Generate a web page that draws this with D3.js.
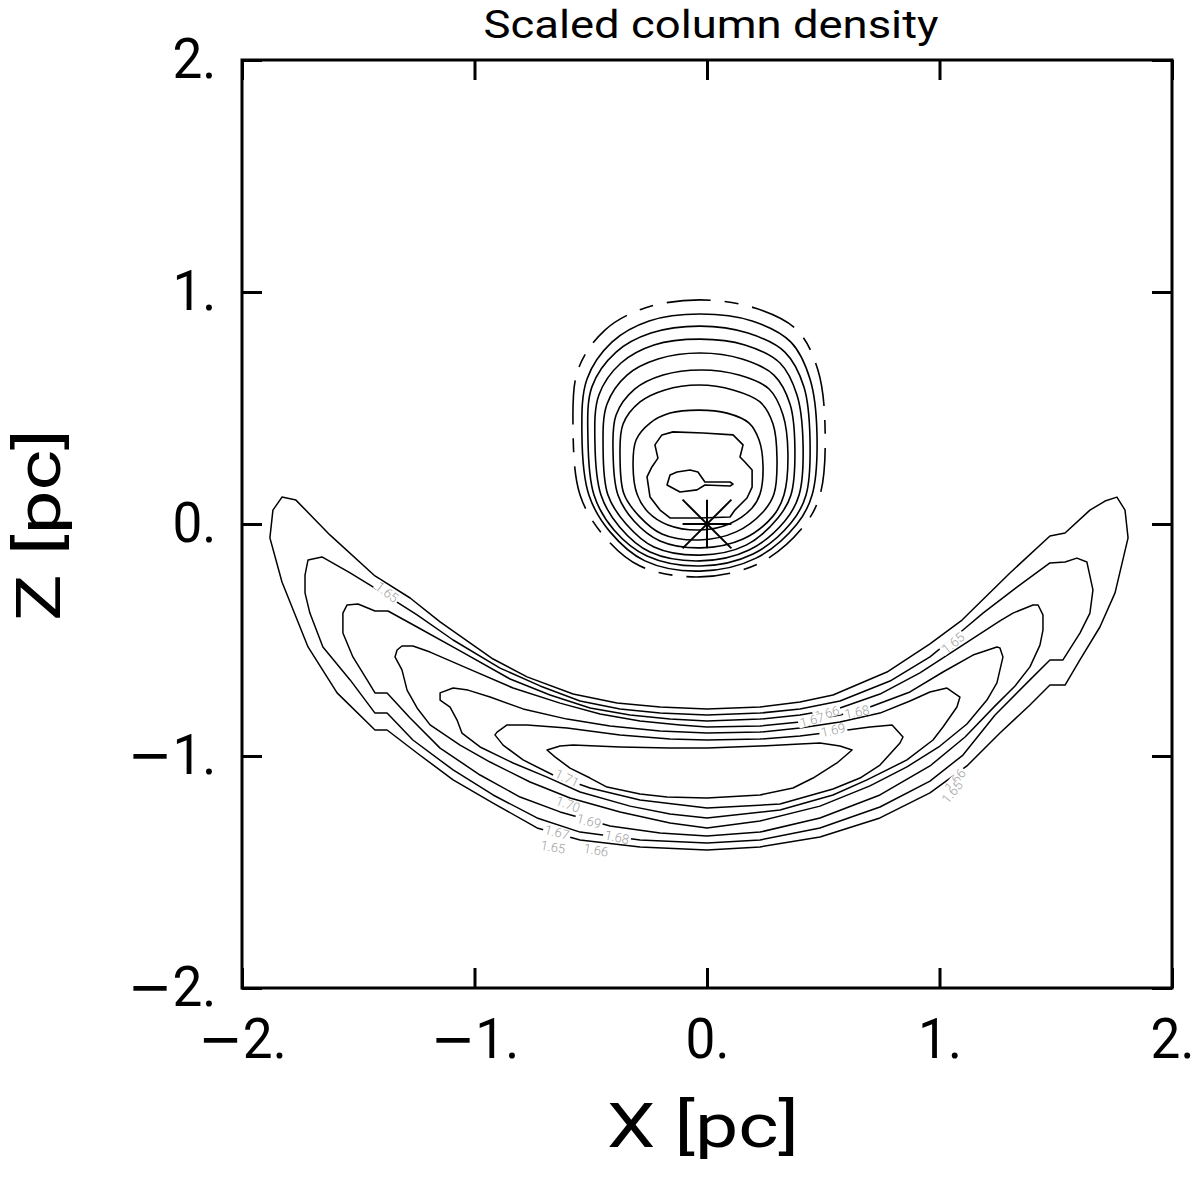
<!DOCTYPE html>
<html><head><meta charset="utf-8">
<script src="https://cdn.jsdelivr.net/npm/d3@7"></script>
<style>body{margin:0;background:#fff}</style>
</head><body>
<svg id="c" width="1200" height="1180"></svg>
<script>
// ---------- data ----------
const chartTitle = "Scaled column density";
const xLabel = "X [pc]";
const zLabel = "Z [pc]";
const xTicks = [-2, -1, 0, 1, 2];
const zTicks = [-2, -1, 0, 1, 2];
const starPos = [0, 0];
const starSize = 0.105;

// compact bubble contours (outer -> inner), data units [x, z]
const bubbleRings = [
 [[-0.030,0.966],[0.206,0.931],[0.387,0.836],[0.477,0.664],[0.508,0.405],[0.486,0.125],[0.413,-0.013],[0.228,-0.168],[-0.030,-0.228],[-0.288,-0.181],[-0.447,-0.047],[-0.546,0.125],[-0.576,0.405],[-0.555,0.664],[-0.439,0.836],[-0.267,0.931]],
 [[-0.030,0.905],[0.194,0.875],[0.361,0.784],[0.443,0.625],[0.473,0.388],[0.452,0.125],[0.387,0.000],[0.211,-0.147],[-0.030,-0.203],[-0.267,-0.159],[-0.417,-0.034],[-0.508,0.125],[-0.538,0.388],[-0.516,0.625],[-0.409,0.784],[-0.249,0.875]],
 [[-0.030,0.853],[0.176,0.823],[0.335,0.741],[0.417,0.591],[0.443,0.366],[0.426,0.125],[0.361,0.004],[0.198,-0.129],[-0.030,-0.181],[-0.258,-0.138],[-0.400,-0.026],[-0.486,0.125],[-0.512,0.366],[-0.495,0.591],[-0.391,0.741],[-0.241,0.823]],
 [[-0.030,0.797],[0.163,0.772],[0.314,0.694],[0.387,0.556],[0.413,0.349],[0.396,0.125],[0.335,0.013],[0.181,-0.112],[-0.030,-0.159],[-0.245,-0.121],[-0.376,-0.013],[-0.456,0.125],[-0.482,0.349],[-0.465,0.556],[-0.370,0.694],[-0.228,0.772]],
 [[-0.030,0.737],[0.151,0.711],[0.288,0.642],[0.357,0.517],[0.378,0.328],[0.361,0.125],[0.305,0.026],[0.168,-0.091],[-0.030,-0.134],[-0.228,-0.099],[-0.348,0.000],[-0.426,0.125],[-0.447,0.328],[-0.430,0.517],[-0.344,0.642],[-0.211,0.711]],
 [[-0.026,0.664],[0.138,0.642],[0.267,0.582],[0.327,0.470],[0.348,0.306],[0.331,0.125],[0.284,0.034],[0.155,-0.065],[-0.026,-0.103],[-0.202,-0.073],[-0.314,0.013],[-0.383,0.125],[-0.404,0.306],[-0.391,0.470],[-0.310,0.582],[-0.189,0.642]],
 [[-0.034,0.599],[0.112,0.578],[0.228,0.526],[0.284,0.431],[0.301,0.284],[0.288,0.129],[0.241,0.052],[0.125,-0.034],[-0.034,-0.069],[-0.194,-0.043],[-0.292,0.034],[-0.357,0.129],[-0.374,0.284],[-0.361,0.431],[-0.288,0.526],[-0.181,0.578]],
 [[-0.034,0.491],[0.086,0.478],[0.181,0.435],[0.224,0.362],[0.241,0.250],[0.228,0.129],[0.194,0.069],[0.095,0.000],[-0.034,-0.026],[-0.168,-0.004],[-0.254,0.052],[-0.301,0.129],[-0.318,0.250],[-0.305,0.362],[-0.245,0.435],[-0.159,0.478]],
 [[-0.194,0.384],[-0.146,0.397],[-0.017,0.392],[0.112,0.384],[0.155,0.341],[0.142,0.289],[0.163,0.267],[0.194,0.233],[0.194,0.159],[0.172,0.112],[0.120,0.060],[0.099,0.030],[-0.030,0.026],[-0.159,0.026],[-0.202,0.060],[-0.245,0.116],[-0.258,0.203],[-0.237,0.246],[-0.211,0.284],[-0.224,0.341]],
 [[-0.159,0.211],[-0.129,0.224],[-0.073,0.233],[-0.039,0.224],[-0.009,0.181],[0.099,0.181],[0.112,0.172],[0.099,0.164],[-0.009,0.168],[-0.043,0.147],[-0.116,0.138],[-0.172,0.168]]
];

// crescent contour levels and their closed outlines (outer -> inner)
const crescentLevels = [1.65, 1.66, 1.67, 1.68, 1.69, 1.70, 1.71];
const crescentContours = [
 [[-1.828,0.116],[-1.768,0.103],[-1.622,-0.047],[-1.428,-0.224],[-1.277,-0.319],[-1.148,-0.422],[-0.920,-0.582],[-0.774,-0.659],[-0.576,-0.733],[-0.387,-0.772],[-0.202,-0.789],[0,-0.797],[0.228,-0.789],[0.400,-0.767],[0.542,-0.737],[0.774,-0.638],[0.959,-0.517],[1.097,-0.414],[1.303,-0.211],[1.475,-0.052],[1.540,-0.039],[1.647,0.060],[1.712,0.099],[1.763,0.116],[1.798,0.060],[1.811,-0.060],[1.755,-0.297],[1.690,-0.444],[1.604,-0.586],[1.540,-0.694],[1.475,-0.694],[1.389,-0.780],[1.260,-0.901],[1.118,-1.043],[0.959,-1.159],[0.744,-1.267],[0.486,-1.349],[0.228,-1.392],[0,-1.405],[-0.288,-1.392],[-0.546,-1.362],[-0.731,-1.310],[-0.920,-1.203],[-1.092,-1.103],[-1.247,-0.987],[-1.376,-0.888],[-1.428,-0.888],[-1.591,-0.728],[-1.716,-0.530],[-1.828,-0.250],[-1.880,-0.060],[-1.867,0.060]],
 [[-1.716,-0.155],[-1.656,-0.142],[-1.535,-0.211],[-1.428,-0.276],[-1.247,-0.392],[-1.092,-0.500],[-0.890,-0.621],[-0.718,-0.698],[-0.546,-0.763],[-0.374,-0.797],[-0.202,-0.815],[0,-0.823],[0.228,-0.815],[0.400,-0.797],[0.572,-0.763],[0.787,-0.677],[0.959,-0.573],[1.101,-0.457],[1.187,-0.384],[1.333,-0.272],[1.475,-0.168],[1.540,-0.164],[1.591,-0.147],[1.634,-0.164],[1.660,-0.284],[1.647,-0.384],[1.604,-0.470],[1.531,-0.586],[1.475,-0.586],[1.389,-0.672],[1.239,-0.823],[1.101,-0.996],[0.959,-1.108],[0.744,-1.220],[0.486,-1.310],[0.228,-1.362],[0,-1.375],[-0.288,-1.362],[-0.546,-1.328],[-0.731,-1.267],[-0.920,-1.168],[-1.092,-1.060],[-1.265,-0.931],[-1.376,-0.815],[-1.428,-0.815],[-1.535,-0.672],[-1.652,-0.530],[-1.708,-0.384],[-1.729,-0.297],[-1.729,-0.220]],
 [[-1.548,-0.349],[-1.501,-0.345],[-1.428,-0.375],[-1.372,-0.375],[-1.247,-0.444],[-1.062,-0.547],[-0.847,-0.668],[-0.675,-0.737],[-0.503,-0.793],[-0.331,-0.823],[-0.159,-0.841],[0,-0.849],[0.228,-0.841],[0.400,-0.823],[0.572,-0.793],[0.744,-0.733],[0.916,-0.642],[1.088,-0.530],[1.260,-0.418],[1.316,-0.384],[1.402,-0.349],[1.424,-0.349],[1.445,-0.392],[1.445,-0.457],[1.432,-0.522],[1.389,-0.616],[1.325,-0.698],[1.239,-0.784],[1.110,-0.918],[0.959,-1.043],[0.744,-1.168],[0.486,-1.267],[0.228,-1.328],[0,-1.345],[-0.202,-1.332],[-0.417,-1.302],[-0.632,-1.241],[-0.804,-1.177],[-0.976,-1.082],[-1.148,-0.966],[-1.277,-0.836],[-1.376,-0.728],[-1.428,-0.728],[-1.462,-0.672],[-1.523,-0.573],[-1.566,-0.470],[-1.566,-0.384]],
 [[-1.333,-0.543],[-1.312,-0.526],[-1.265,-0.526],[-1.191,-0.552],[-1.032,-0.621],[-0.834,-0.707],[-0.632,-0.772],[-0.460,-0.819],[-0.288,-0.849],[-0.116,-0.866],[0,-0.875],[0.228,-0.871],[0.400,-0.853],[0.572,-0.823],[0.701,-0.789],[0.873,-0.724],[1.015,-0.638],[1.144,-0.565],[1.247,-0.530],[1.260,-0.534],[1.273,-0.573],[1.247,-0.685],[1.204,-0.759],[1.118,-0.862],[1.002,-0.957],[0.860,-1.047],[0.701,-1.129],[0.486,-1.216],[0.228,-1.280],[0,-1.310],[-0.159,-1.289],[-0.374,-1.241],[-0.589,-1.181],[-0.761,-1.112],[-0.933,-1.026],[-1.062,-0.953],[-1.191,-0.866],[-1.247,-0.793],[-1.290,-0.716],[-1.312,-0.629],[-1.342,-0.573]],
 [[-1.148,-0.728],[-1.092,-0.707],[-1.028,-0.716],[-0.933,-0.746],[-0.791,-0.797],[-0.602,-0.841],[-0.417,-0.871],[-0.202,-0.892],[0,-0.901],[0.228,-0.897],[0.400,-0.879],[0.572,-0.853],[0.744,-0.815],[0.873,-0.763],[0.959,-0.724],[1.032,-0.707],[1.088,-0.746],[1.075,-0.789],[1.015,-0.875],[0.972,-0.931],[0.860,-1.017],[0.688,-1.103],[0.542,-1.168],[0.314,-1.233],[0,-1.267],[-0.159,-1.250],[-0.331,-1.216],[-0.546,-1.155],[-0.688,-1.091],[-0.834,-1.030],[-0.976,-0.961],[-1.054,-0.901],[-1.075,-0.845],[-1.105,-0.789],[-1.148,-0.759]],
 [[-0.912,-0.909],[-0.903,-0.897],[-0.860,-0.866],[-0.774,-0.866],[-0.602,-0.879],[-0.374,-0.909],[-0.159,-0.927],[0,-0.931],[0.228,-0.927],[0.400,-0.914],[0.572,-0.892],[0.701,-0.875],[0.796,-0.866],[0.843,-0.918],[0.830,-0.944],[0.744,-1.039],[0.658,-1.095],[0.542,-1.142],[0.314,-1.207],[0,-1.224],[-0.288,-1.190],[-0.503,-1.138],[-0.662,-1.082],[-0.791,-1.017],[-0.877,-0.953]],
 [[-0.688,-0.974],[-0.632,-0.957],[-0.576,-0.953],[-0.374,-0.961],[-0.159,-0.966],[0,-0.966],[0.228,-0.957],[0.400,-0.948],[0.486,-0.944],[0.572,-0.957],[0.624,-0.974],[0.559,-1.030],[0.456,-1.095],[0.370,-1.138],[0.228,-1.168],[0,-1.181],[-0.172,-1.177],[-0.288,-1.164],[-0.430,-1.134],[-0.503,-1.095],[-0.589,-1.052],[-0.654,-1.004]]
];

// contour labels: level text, anchor in data units, angle along the line
const labelText = ["1.65","1.71","1.70","1.69","1.68","1.67","1.65","1.66","1.65","1.66","1.67","1.68","1.69","1.66","1.65"];
const labelX    = [-1.376,-0.602,-0.598,-0.508,-0.387,-0.645,-0.662,-0.477, 1.058, 0.516, 0.452, 0.645, 0.542, 1.067, 1.054];
const labelZ    = [-0.293,-1.095,-1.207,-1.280,-1.349,-1.328,-1.392,-1.405,-0.513,-0.815,-0.845,-0.810,-0.888,-1.103,-1.155];
const labelAng  = [38, 25, 20, 15, 12, 15, 10, 10, -40, -15, -15, -12, -12, -50, -50];

// ---------- drawing ----------
const svg = d3.select("#c");
const L = 242, R = 1172, T = 60, B = 988;
const x = d3.scaleLinear().domain([-2, 2]).range([L, R]);
const z = d3.scaleLinear().domain([-2, 2]).range([B, T]);
const FONT = "Roboto,'Liberation Sans',sans-serif";
const FW = 400;

const closedLin = d3.line().x(d => x(d[0])).y(d => z(d[1])).curve(d3.curveLinearClosed);
const closedSmooth = d3.line().x(d => x(d[0])).y(d => z(d[1])).curve(d3.curveCatmullRomClosed.alpha(0.5));

const plot = svg.append("g");
// bubble rings
plot.selectAll("path.ring").data(bubbleRings).join("path")
  .attr("class", "ring")
  .attr("d", (d, i) => i < 8 ? closedSmooth(d) : closedLin(d))
  .attr("fill", "none").attr("stroke", "#000").attr("stroke-width", 1.6)
  .attr("stroke-linejoin", "round")
  .attr("stroke-dasharray", (d, i) => i === 0 ? "44,14,14,14" : null);

// crescent
plot.selectAll("path.cres").data(crescentContours).join("path")
  .attr("class", "cres")
  .attr("d", closedLin)
  .attr("fill", "none").attr("stroke", "#000").attr("stroke-width", 1.5)
  .attr("stroke-linejoin", "round");

// contour labels (white gap + grey text)
const labels = labelText.map((t, i) => ({t, x: labelX[i], z: labelZ[i], a: labelAng[i]}));
const lg = plot.selectAll("g.lab").data(labels).join("g")
  .attr("class", "lab")
  .attr("transform", d => `translate(${x(d.x)},${z(d.z)}) rotate(${d.a})`);
lg.append("rect").attr("x", -14).attr("y", -5).attr("width", 28).attr("height", 10).attr("fill", "#fff");
lg.append("text").text(d => d.t)
  .attr("text-anchor", "middle").attr("dy", "0.36em")
  .attr("font-family", FONT).attr("font-weight", 300).attr("font-size", 13)
  .attr("fill", "#a0a0a0");

// star marker
const s = starSize;
const starLines = [[[-s,0],[s,0]],[[0,-s],[0,s]],[[-s,-s],[s,s]],[[-s,s],[s,-s]]];
plot.selectAll("line.star").data(starLines).join("line")
  .attr("x1", d => x(starPos[0] + d[0][0])).attr("y1", d => z(starPos[1] + d[0][1]))
  .attr("x2", d => x(starPos[0] + d[1][0])).attr("y2", d => z(starPos[1] + d[1][1]))
  .attr("stroke", "#000").attr("stroke-width", 2);

// axes (ticks pointing inward); labels with a long minus sign
function styleAxis(g) {
  g.select(".domain").remove();
  g.selectAll(".tick line").attr("stroke", "#000").attr("stroke-width", 3);
}
function tickLabels(g) {
  g.selectAll(".tick text").each(function(v) {
    const t = d3.select(this).text("")
      .attr("font-family", FONT).attr("font-weight", FW).attr("font-size", 56)
      .attr("fill", "#000").attr("transform", "scale(0.95,1)");
    if (v < 0) t.append("tspan").attr("font-family", "'DejaVu Sans',sans-serif").text("\u2212");
    t.append("tspan").text(Math.abs(v) + ".");
  });
}
svg.append("g").attr("transform", `translate(0,${B})`)
  .call(d3.axisBottom(x).tickValues(xTicks).tickSize(-20).tickPadding(30))
  .call(styleAxis).call(tickLabels);
svg.append("g").attr("transform", `translate(0,${T})`)
  .call(d3.axisTop(x).tickValues(xTicks).tickSize(-20).tickFormat(""))
  .call(styleAxis);
svg.append("g").attr("transform", `translate(${L},0)`)
  .call(d3.axisLeft(z).tickValues(zTicks).tickSize(-20).tickPadding(27))
  .call(styleAxis).call(tickLabels);
svg.append("g").attr("transform", `translate(${R},0)`)
  .call(d3.axisRight(z).tickValues(zTicks).tickSize(-20).tickFormat(""))
  .call(styleAxis);

// frame
svg.append("rect").attr("x", L).attr("y", T).attr("width", R - L).attr("height", B - T)
  .attr("fill", "none").attr("stroke", "#000").attr("stroke-width", 3);

// title and axis titles
svg.append("text").text(chartTitle)
  .attr("x", 711).attr("y", 38).attr("text-anchor", "middle")
  .attr("textLength", 455).attr("lengthAdjust", "spacingAndGlyphs")
  .attr("font-family", FONT).attr("font-weight", FW).attr("font-size", 38).attr("fill", "#000");
svg.append("text").text(xLabel)
  .attr("x", 703).attr("y", 1147).attr("text-anchor", "middle")
  .attr("textLength", 192).attr("lengthAdjust", "spacingAndGlyphs")
  .attr("font-family", FONT).attr("font-weight", FW).attr("font-size", 62).attr("fill", "#000");
svg.append("text").text(zLabel)
  .attr("transform", "translate(60,525) rotate(-90)").attr("text-anchor", "middle")
  .attr("textLength", 192).attr("lengthAdjust", "spacingAndGlyphs")
  .attr("font-family", FONT).attr("font-weight", FW).attr("font-size", 62).attr("fill", "#000");
</script>
</body></html>
